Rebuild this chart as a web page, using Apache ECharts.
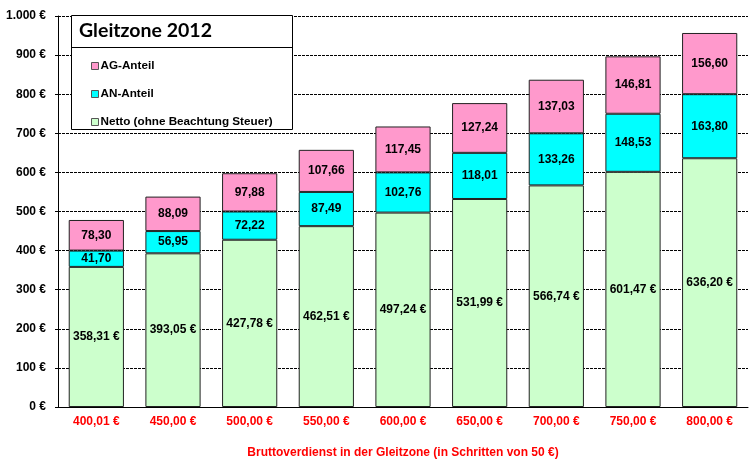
<!DOCTYPE html>
<html><head><meta charset="utf-8">
<script src="https://cdn.jsdelivr.net/npm/echarts@6/dist/echarts.min.js"></script>
<style>html,body{margin:0;padding:0;background:#fff}#c{width:750px;height:464px}</style>
</head><body><div id="c"></div>
<script>
const categories = ['400,01 €','450,00 €','500,00 €','550,00 €','600,00 €','650,00 €','700,00 €','750,00 €','800,00 €'];
const netto = [358.31, 393.05, 427.78, 462.51, 497.24, 531.99, 566.74, 601.47, 636.20];
const anAnteil = [41.70, 56.95, 72.22, 87.49, 102.76, 118.01, 133.26, 148.53, 163.80];
const agAnteil = [78.30, 88.09, 97.88, 107.66, 117.45, 127.24, 137.03, 146.81, 156.60];
const yTicks = [0,100,200,300,400,500,600,700,800,900,1000];

const fmt = v => v.toFixed(2).replace('.', ',');
const fmtY = v => (v >= 1000 ? Math.floor(v/1000) + '.' + String(v%1000).padStart(3,'0') : String(v)) + ' €';
const FONT = '"Liberation Sans", Arial, sans-serif';
const chart = echarts.init(document.getElementById('c'));
const lbl = (f) => ({show:true, position:'inside', color:'#000', fontWeight:'bold', fontSize:12, fontFamily:FONT, formatter: p => f(p.value)});
const bar = (name, data, color, f) => ({
  name, type:'bar', stack:'s', data, barCategoryGap:'28%',
  itemStyle:{color, borderColor:'#222', borderWidth:1},
  label: lbl(f), emphasis:{disabled:true}
});
chart.setOption({
  animation:false,
  grid:{left:58, right:2, top:16, bottom:56},
  xAxis:{type:'category', data:categories,
    axisLine:{lineStyle:{color:'#000'}}, axisTick:{length:4, lineStyle:{color:'#000'}},
    axisLabel:{color:'#ff0000', fontWeight:'bold', fontSize:12, fontFamily:FONT, margin:9},
    name:'Bruttoverdienst in der Gleitzone (in Schritten von 50 €)', nameLocation:'middle', nameGap:40,
    nameTextStyle:{color:'#ff0000', fontWeight:'bold', fontSize:12, fontFamily:FONT}},
  yAxis:{type:'value', min:yTicks[0], max:yTicks[yTicks.length-1], interval:100,
    axisLine:{show:true, lineStyle:{color:'#000'}}, axisTick:{show:true, length:3, lineStyle:{color:'#000'}},
    axisLabel:{color:'#000', fontWeight:'bold', fontSize:12, fontFamily:FONT, margin:12, formatter: v => fmtY(v)},
    splitLine:{lineStyle:{color:'#000', type:[3,1], width:1}}},
  legend:{orient:'vertical', left:86, top:54, itemWidth:7, itemHeight:7, itemGap:14,
    icon:'rect', data:['AG-Anteil','AN-Anteil','Netto (ohne Beachtung Steuer)'],
    textStyle:{color:'#000', fontWeight:'bold', fontSize:11.7, fontFamily:FONT, lineHeight:14, padding:[0,0,0,-3]},
    itemStyle:{borderColor:'#555', borderWidth:1}, selectedMode:false},
  graphic:[
    {type:'rect', z:1, shape:{x:71.5, y:15.5, width:221, height:114}, style:{fill:'#fff', stroke:'#000', lineWidth:1}},
    {type:'line', z:2, shape:{x1:71.5, y1:47.5, x2:292.5, y2:47.5}, style:{stroke:'#000', lineWidth:1}},
    {type:'text', z:2, left:79, top:21, style:{text:'Gleitzone 2012', font:'bold 19.5px Lato, sans-serif', fill:'#000'}}
  ],
  series:[
    bar('Netto (ohne Beachtung Steuer)', netto, '#ccffcc', v => fmt(v) + ' €'),
    bar('AN-Anteil', anAnteil, '#00ffff', fmt),
    bar('AG-Anteil', agAnteil, '#ff99cc', fmt)
  ]
});
</script></body></html>
